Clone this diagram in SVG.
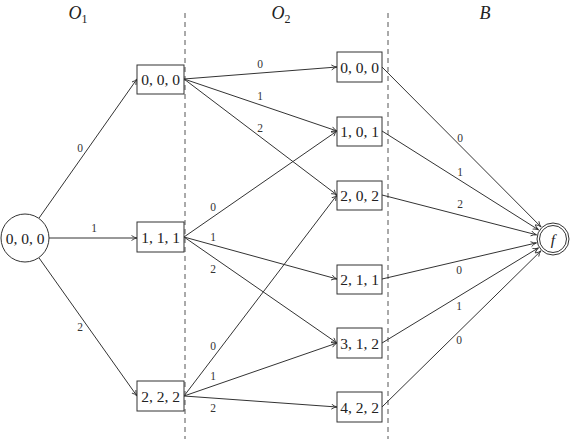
<svg xmlns="http://www.w3.org/2000/svg" width="572" height="439" viewBox="0 0 572 439">
<style>
.n{fill:#fff;stroke:#333;stroke-width:1}
.t{font-family:"Liberation Serif","Times New Roman",serif;font-size:15.5px;fill:#222;text-anchor:middle;dominant-baseline:central}
.l{font-family:"Liberation Serif","Times New Roman",serif;font-size:11.5px;fill:#333;text-anchor:middle;dominant-baseline:central}
.h{font-family:"Liberation Serif","Times New Roman",serif;font-size:18px;font-style:italic;fill:#222;text-anchor:middle}
.e{stroke:#333;stroke-width:1;fill:none;marker-end:url(#a)}
.d{stroke:#555;stroke-width:1;stroke-dasharray:5,4}
</style>
<defs>
<marker id="a" markerWidth="8" markerHeight="8" refX="6" refY="3" orient="auto" markerUnits="userSpaceOnUse">
<path d="M0.5,0.5 Q3,2.5 6,3 Q3,3.5 0.5,5.5" fill="none" stroke="#333" stroke-width="0.9"/>
</marker>
</defs>
<rect width="572" height="439" fill="#fff"/>
<g id="headers">
<text class="h" x="78" y="19">O<tspan font-size="12" font-style="normal" dy="4">1</tspan></text>
<text class="h" x="281" y="19">O<tspan font-size="12" font-style="normal" dy="4">2</tspan></text>
<text class="h" x="485" y="19">B</text>
</g>
<g id="separators">
<line class="d" x1="185" y1="13" x2="185" y2="439"/>
<line class="d" x1="388" y1="13" x2="388" y2="439"/>
</g>
<g id="connectors">
<line class="e" x1="38.8" y1="218.4" x2="137" y2="79"/>
<line class="e" x1="49" y1="238" x2="137" y2="238"/>
<line class="e" x1="38.8" y1="257.6" x2="137" y2="396"/>
<line class="e" x1="184" y1="79" x2="337" y2="67"/>
<line class="e" x1="184" y1="79" x2="337" y2="131"/>
<line class="e" x1="184" y1="79" x2="337" y2="195"/>
<line class="e" x1="184" y1="237" x2="337" y2="131"/>
<line class="e" x1="184" y1="237" x2="337" y2="279"/>
<line class="e" x1="184" y1="237" x2="337" y2="343"/>
<line class="e" x1="184" y1="396" x2="337" y2="195"/>
<line class="e" x1="184" y1="396" x2="337" y2="343"/>
<line class="e" x1="184" y1="396" x2="337" y2="407"/>
<line class="e" x1="382" y1="67" x2="541" y2="226.9"/>
<line class="e" x1="382" y1="131" x2="538.6" y2="229.9"/>
<line class="e" x1="382" y1="195" x2="536.5" y2="234.8"/>
<line class="e" x1="382" y1="279" x2="536.4" y2="242.9"/>
<line class="e" x1="382" y1="343" x2="538.5" y2="247.8"/>
<line class="e" x1="382" y1="407" x2="540.9" y2="250.9"/>
<text class="l" x="80" y="148">0</text>
<text class="l" x="94" y="228">1</text>
<text class="l" x="80" y="327">2</text>
<text class="l" x="260" y="64">0</text>
<text class="l" x="260" y="96">1</text>
<text class="l" x="260" y="128">2</text>
<text class="l" x="213" y="207">0</text>
<text class="l" x="213" y="237">1</text>
<text class="l" x="213" y="269">2</text>
<text class="l" x="213" y="346">0</text>
<text class="l" x="213" y="376">1</text>
<text class="l" x="213" y="408">2</text>
<text class="l" x="460" y="138">0</text>
<text class="l" x="460" y="172">1</text>
<text class="l" x="460" y="204">2</text>
<text class="l" x="459" y="270">0</text>
<text class="l" x="459" y="306">1</text>
<text class="l" x="459" y="340">0</text>
</g>
<g id="start"><circle class="n" cx="25" cy="238" r="24"/><text class="t" x="25" y="238">0, 0, 0</text></g>
<g id="o1_000"><rect class="n" x="137" y="65" width="47" height="29"/><text class="t" x="160.5" y="79.5">0, 0, 0</text></g>
<g id="o1_111"><rect class="n" x="137" y="222" width="47" height="30"/><text class="t" x="160.5" y="237">1, 1, 1</text></g>
<g id="o1_222"><rect class="n" x="137" y="381" width="47" height="30"/><text class="t" x="160.5" y="396">2, 2, 2</text></g>
<g id="o2_000"><rect class="n" x="337" y="52" width="45" height="30"/><text class="t" x="359.5" y="67">0, 0, 0</text></g>
<g id="o2_101"><rect class="n" x="337" y="117" width="45" height="29"/><text class="t" x="359.5" y="131.5">1, 0, 1</text></g>
<g id="o2_202"><rect class="n" x="337" y="181" width="45" height="29"/><text class="t" x="359.5" y="195.5">2, 0, 2</text></g>
<g id="o2_211"><rect class="n" x="337" y="265" width="45" height="29"/><text class="t" x="359.5" y="279.5">2, 1, 1</text></g>
<g id="o2_312"><rect class="n" x="337" y="328" width="45" height="30"/><text class="t" x="359.5" y="343">3, 1, 2</text></g>
<g id="o2_422"><rect class="n" x="337" y="392" width="45" height="30"/><text class="t" x="359.5" y="407">4, 2, 2</text></g>
<g id="final"><circle class="n" cx="553" cy="239" r="16"/><circle class="n" cx="553" cy="239" r="13.5"/><text class="t" x="553" y="239" font-style="italic">f</text></g>
</svg>
